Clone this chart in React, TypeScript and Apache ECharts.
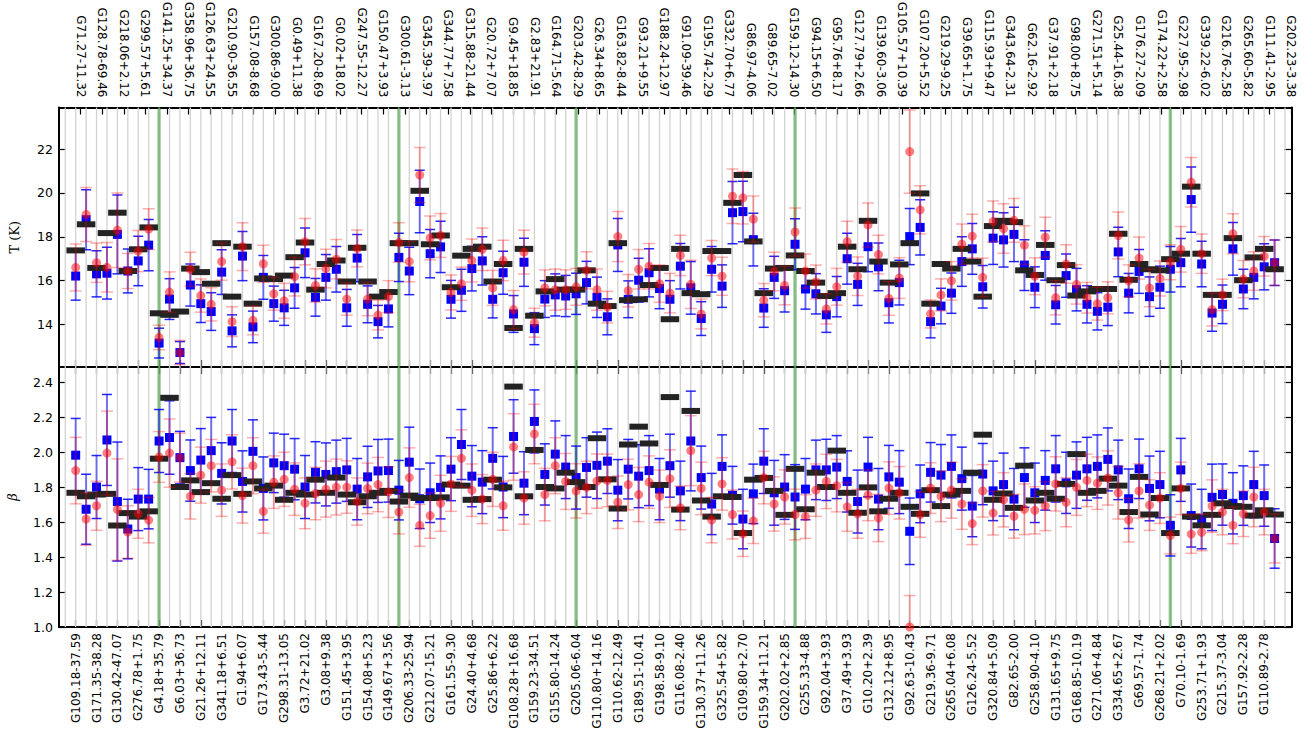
import React, { useEffect, useRef } from "react";
import * as echarts from "echarts";

const topNames = ["G71.27-11.32","G128.78-69.46","G218.06+2.12","G299.57+5.61","G141.25+34.37","G358.96+36.75","G126.63+24.55","G210.90-36.55","G157.08-8.68","G300.86-9.00","G0.49+11.38","G167.20-8.69","G0.02+18.02","G247.55-12.27","G150.47+3.93","G300.61-3.13","G345.39-3.97","G344.77+7.58","G315.88-21.44","G20.72+7.07","G9.45+18.85","G2.83+21.91","G164.71-5.64","G203.42-8.29","G26.34+8.65","G163.82-8.44","G93.21+9.55","G188.24-12.97","G91.09-39.46","G195.74-2.29","G332.70+6.77","G86.97-4.06","G89.65-7.02","G159.12-14.30","G94.15+6.50","G95.76+8.17","G127.79+2.66","G139.60-3.06","G105.57+10.39","G107.20+5.52","G219.29-9.25","G39.65+1.75","G115.93+9.47","G343.64-2.31","G62.16-2.92","G37.91+2.18","G98.00+8.75","G271.51+5.14","G25.44-16.38","G176.27-2.09","G174.22+2.58","G227.95-2.98","G339.22-6.02","G216.76-2.58","G265.60-5.82","G111.41-2.95","G202.23-3.38"];

const bottomNames = ["G109.18-37.59","G171.35-38.28","G130.42-47.07","G276.78+1.75","G4.18+35.79","G6.03+36.73","G21.26+12.11","G341.18+6.51","G1.94+6.07","G173.43-5.44","G298.31-13.05","G3.72+21.02","G3.08+9.38","G151.45+3.95","G154.08+5.23","G149.67+3.56","G206.33-25.94","G212.07-15.21","G161.55-9.30","G24.40+4.68","G25.86+6.22","G108.28+16.68","G159.23-34.51","G155.80-14.24","G205.06-6.04","G110.80+14.16","G110.62-12.49","G189.51-10.41","G198.58-9.10","G116.08-2.40","G130.37+11.26","G325.54+5.82","G109.80+2.70","G159.34+11.21","G202.02+2.85","G255.33-4.88","G92.04+3.93","G37.49+3.93","G10.20+2.39","G132.12+8.95","G92.63-10.43","G219.36-9.71","G265.04+6.08","G126.24-5.52","G320.84+5.09","G82.65-2.00","G258.90-4.10","G131.65+9.75","G168.85-10.19","G271.06+4.84","G334.65+2.67","G69.57-1.74","G268.21+2.02","G70.10-1.69","G253.71+1.93","G215.37-3.04","G157.92-2.28","G110.89-2.78"];

// Temperature panel
const tBlack = [17.38,18.57,16.58,18.17,19.10,16.44,17.43,18.43,14.51,14.44,14.59,16.55,16.39,15.86,17.71,15.27,17.55,14.95,16.10,16.07,16.23,17.07,17.74,15.59,16.76,16.92,15.96,17.50,15.96,15.27,15.48,17.71,17.71,20.10,17.66,18.06,15.70,17.14,17.45,17.55,15.96,16.76,13.84,17.45,14.40,15.51,16.07,15.59,15.59,16.47,14.95,14.84,17.71,15.11,15.15,15.80,16.58,14.24,17.45,15.43,15.38,17.35,17.35,19.55,20.82,17.79,15.43,16.55,16.58,17.15,16.44,15.91,15.30,15.43,17.55,16.52,18.73,16.87,15.91,16.74,17.71,19.98,14.95,16.76,16.55,17.45,16.87,15.27,18.49,18.73,18.67,16.47,16.26,17.63,16.02,16.71,15.32,15.51,15.62,15.62,18.14,16.04,16.76,16.52,16.47,16.98,17.23,20.29,17.23,15.35,15.35,17.94,16.02,17.06,17.45,16.52];
const tRed = [16.6,19.02,16.82,16.61,18.30,16.44,17.35,18.35,13.41,15.48,12.72,16.52,15.32,14.92,16.87,14.13,17.55,14.19,16.77,15.4,15.08,16.18,17.78,15.78,16.55,16.98,15.16,17.47,15.16,14.43,15.27,17.74,16.87,20.82,17.95,18.06,15.46,15.86,16.92,17.43,15.67,16.92,14.68,17.30,14.08,15.67,15.59,15.59,15.72,16.47,15.59,14.79,18.01,15.54,16.52,16.66,15.86,15.43,17.15,15.83,14.48,17.03,16.20,19.85,19.78,18.81,15.11,16.42,15.78,18.22,16.44,15.94,14.71,15.72,17.78,16.20,18.54,17.19,15.19,16.12,21.89,19.23,14.48,15.35,15.99,17.66,18.03,16.15,18.70,18.38,18.75,17.62,16.20,17.98,15.22,16.76,15.83,15.22,14.95,15.22,18.06,15.99,17.03,15.67,16.10,16.84,17.43,20.49,17.23,14.68,15.35,18.14,16.07,16.44,17.11,16.82];
const tRedErr = [1.07,1.23,0.9,1.13,1.7,0.8,0.94,0.93,0.56,0.92,0.55,0.78,0.76,0.76,0.85,0.68,1.09,0.66,0.85,0.75,0.8,0.88,1.06,0.76,0.88,0.9,0.74,0.84,0.76,0.68,0.73,0.9,0.92,1.26,1.0,1.0,0.8,0.76,0.98,0.97,0.8,0.92,0.87,1.0,0.66,0.82,0.94,0.9,0.84,0.85,0.94,0.72,1.14,0.74,0.9,1.04,0.85,0.9,0.92,1.1,0.68,0.8,0.87,1.24,1.2,1.05,0.76,0.88,0.88,1.1,0.78,0.77,0.69,0.84,0.93,0.88,1.0,0.88,0.77,0.93,1.9,1.1,0.64,0.73,0.88,0.92,1.0,0.88,0.93,1.13,1.0,0.88,0.84,0.91,0.78,0.88,0.9,0.7,0.75,0.73,1.07,0.73,0.96,0.86,0.8,0.8,1.04,1.13,0.9,0.75,0.72,0.91,0.85,0.88,0.9,1.04];
const tBlue = [16.21,18.78,16.31,16.34,18.11,16.44,16.9,17.62,13.15,15.16,12.72,15.8,14.95,14.59,16.39,13.71,17.12,13.89,16.15,14.95,14.76,15.67,17.27,15.24,16.15,16.52,14.76,17.03,14.92,14.13,14.71,17.06,16.44,19.61,17.23,17.54,15.15,15.56,16.55,16.9,15.15,16.36,14.48,16.84,13.81,15.16,15.35,15.3,15.4,15.91,15.24,14.35,17.63,15.15,16.02,16.36,15.64,15.15,16.66,15.67,14.27,16.52,15.75,19.1,19.15,17.87,14.75,16.15,15.54,17.66,15.62,15.4,14.44,15.27,17.0,15.83,17.55,16.63,14.99,15.91,18.01,18.43,14.13,14.84,15.43,16.87,17.45,15.72,17.94,17.86,18.11,16.71,15.7,17.15,14.9,16.23,15.59,14.92,14.6,14.79,17.31,15.43,16.42,15.27,15.7,16.52,16.82,19.7,16.76,14.52,14.92,17.45,15.62,16.15,16.63,16.82];
const tBlueErr = [1.1,1.37,1.05,1.18,1.8,1.0,1.13,1.17,0.68,0.93,0.5,0.96,0.86,0.86,1.02,0.73,1.12,0.72,1.0,0.8,0.8,0.93,1.13,0.86,1.04,1.04,0.84,1.08,0.84,0.74,0.82,1.1,1.08,1.43,1.1,1.17,0.86,0.96,1.02,1.1,0.85,0.98,0.84,1.1,0.73,0.84,0.96,0.94,0.94,0.97,0.92,0.82,1.21,0.84,1.0,1.1,0.92,0.85,1.04,1.2,0.77,1.04,0.97,1.42,1.38,1.2,0.88,0.96,0.97,1.16,0.92,0.92,0.8,0.92,1.16,0.96,1.14,1.09,0.92,1.02,1.28,1.26,0.74,0.81,0.92,1.13,1.16,0.97,1.2,1.24,1.24,1.16,0.93,1.13,0.88,0.99,0.97,0.85,0.85,0.84,1.13,0.9,1.0,0.9,0.96,1.04,1.1,1.49,1.04,0.83,0.88,1.2,0.9,0.98,1.05,1.04];

// Beta panel
const bBlack = [1.767,1.747,1.757,1.761,1.58,1.651,1.631,1.661,1.962,2.31,1.80,1.838,1.771,1.822,1.733,1.868,1.761,1.832,1.792,1.808,1.727,1.767,1.757,1.842,1.767,1.854,1.757,1.713,1.747,1.767,1.778,1.717,1.751,1.737,1.737,1.741,1.814,1.808,1.727,1.731,1.842,1.798,2.374,1.747,2.012,1.80,1.792,1.882,1.828,1.80,2.079,1.844,1.677,2.043,2.145,2.049,1.812,2.314,1.671,2.235,1.723,1.631,1.747,1.743,1.537,1.842,1.852,1.778,1.641,1.904,1.673,1.882,1.80,2.008,1.767,1.653,1.798,1.661,1.733,1.767,1.687,1.647,1.782,1.691,1.757,1.778,1.882,2.099,1.727,1.763,1.681,1.922,1.723,1.767,1.733,1.818,1.988,1.767,1.778,1.848,1.808,1.657,1.858,1.643,1.737,1.537,1.792,1.631,1.581,1.641,1.707,1.691,1.687,1.637,1.667,1.643];
const bRed = [1.894,1.617,1.693,1.994,1.671,1.543,1.647,1.611,1.972,1.994,1.968,1.747,1.868,1.922,1.782,1.944,1.751,1.922,1.661,1.828,1.844,1.788,1.707,1.763,1.788,1.80,1.80,1.717,1.792,1.814,1.771,1.657,1.854,1.581,1.637,1.707,1.818,1.964,1.782,1.731,1.844,1.693,2.029,1.737,2.103,1.757,1.922,1.832,1.778,1.798,1.834,1.838,1.713,1.814,1.757,1.828,1.747,1.848,1.681,2.008,1.792,1.611,1.818,1.643,1.533,1.607,1.854,1.703,1.743,1.643,1.631,1.782,1.832,1.808,1.687,1.647,1.753,1.623,1.794,1.767,1.0,1.643,1.794,1.747,1.782,1.703,1.591,1.778,1.651,1.727,1.633,1.673,1.667,1.691,1.818,1.713,1.798,1.838,1.822,1.852,1.767,1.611,1.778,1.697,1.737,1.523,1.792,1.531,1.541,1.691,1.657,1.581,1.647,1.743,1.657,1.506];
const bRedErr = [0.19,0.15,0.14,0.24,0.29,0.15,0.14,0.13,0.145,0.195,0.14,0.13,0.16,0.15,0.15,0.155,0.157,0.16,0.125,0.15,0.155,0.15,0.145,0.15,0.16,0.16,0.15,0.135,0.145,0.155,0.145,0.125,0.17,0.12,0.13,0.16,0.157,0.163,0.15,0.14,0.155,0.14,0.19,0.15,0.17,0.15,0.16,0.16,0.155,0.15,0.155,0.15,0.15,0.145,0.155,0.15,0.15,0.165,0.125,0.2,0.15,0.13,0.15,0.14,0.13,0.13,0.15,0.155,0.155,0.145,0.125,0.15,0.155,0.15,0.14,0.14,0.145,0.135,0.15,0.15,0.18,0.13,0.145,0.145,0.16,0.145,0.12,0.15,0.125,0.155,0.125,0.145,0.135,0.14,0.155,0.14,0.16,0.15,0.15,0.155,0.15,0.125,0.155,0.145,0.145,0.105,0.15,0.11,0.105,0.15,0.13,0.105,0.13,0.17,0.13,0.14];
const bBlue = [1.982,1.673,1.80,2.069,1.717,1.56,1.731,1.731,2.063,2.083,1.968,1.894,1.954,2.008,1.878,2.063,1.832,2.004,1.792,1.938,1.922,1.902,1.80,1.884,1.872,1.888,1.898,1.788,1.858,1.892,1.894,1.782,1.942,1.733,1.767,1.798,1.902,2.043,1.862,1.828,1.964,1.80,2.089,1.822,2.175,1.872,1.988,1.914,1.854,1.912,1.924,1.948,1.782,1.902,1.862,1.894,1.788,1.922,1.778,2.063,1.854,1.703,1.918,1.753,1.617,1.761,1.948,1.767,1.80,1.743,1.788,1.898,1.898,1.914,1.832,1.717,1.914,1.731,1.858,1.828,1.547,1.761,1.884,1.868,1.918,1.848,1.691,1.874,1.778,1.814,1.731,1.854,1.767,1.838,1.904,1.824,1.868,1.904,1.918,1.958,1.898,1.733,1.904,1.792,1.814,1.581,1.898,1.637,1.617,1.741,1.757,1.707,1.751,1.814,1.751,1.506];
const bBlueErr = [0.21,0.2,0.18,0.26,0.34,0.17,0.18,0.17,0.18,0.21,0.15,0.175,0.18,0.19,0.175,0.18,0.175,0.18,0.18,0.17,0.18,0.175,0.18,0.175,0.18,0.18,0.18,0.175,0.175,0.18,0.18,0.17,0.2,0.17,0.17,0.18,0.18,0.2,0.175,0.18,0.175,0.175,0.21,0.18,0.18,0.175,0.19,0.18,0.18,0.17,0.19,0.185,0.175,0.17,0.18,0.2,0.175,0.18,0.17,0.285,0.18,0.175,0.18,0.165,0.17,0.17,0.185,0.185,0.185,0.185,0.175,0.17,0.175,0.18,0.175,0.18,0.17,0.175,0.18,0.18,0.19,0.165,0.17,0.175,0.18,0.18,0.175,0.175,0.17,0.18,0.175,0.17,0.17,0.17,0.19,0.175,0.19,0.18,0.18,0.18,0.17,0.17,0.17,0.185,0.19,0.175,0.18,0.18,0.17,0.19,0.175,0.175,0.17,0.19,0.175,0.17];

// highlighted sources (vertical green lines)
const greenCats = [8, 31, 48, 69, 105];

const tTicks = [14, 16, 18, 20, 22];
const bTicks = [1.0, 1.2, 1.4, 1.6, 1.8, 2.0, 2.2, 2.4];

const X_MIN = -1.6;
const X_MAX = 116.6;
const T_MIN = 12.06;
const T_MAX = 23.9;
const B_MIN = 1.0;
const B_MAX = 2.486;

const FONT = "DejaVu Sans";

export default function App() {
  const ref = useRef<HTMLDivElement>(null);

  useEffect(() => {
    if (!ref.current) return;
    const chart = echarts.init(ref.current, undefined, { renderer: "svg" });

    const nCat = tBlack.length;
    const evenCats: number[] = [];
    for (let i = 0; i < bottomNames.length; i++) evenCats.push(i * 2);
    const topVals: number[] = [];
    for (let i = 0; i < topNames.length; i++) topVals.push(i * 2 + 2);
    const gridLineCats: number[] = [];
    for (let i = -1; i <= nCat; i++) gridLineCats.push(i);

    const pts = (vals: number[]) => vals.map((v, i) => [i, v]);
    const errPts = (vals: number[], errs: number[]) => vals.map((v, i) => [i, v, errs[i]]);

    const vLineSeries = (grid: number, cats: number[], color: string, width: number, z: number) => ({
      type: "custom",
      xAxisIndex: grid === 0 ? 0 : 2,
      yAxisIndex: grid === 0 ? 0 : 2,
      z,
      silent: true,
      data: cats.map((c) => [c, grid === 0 ? T_MIN : B_MIN]),
      renderItem: (params: any, api: any) => {
        const cs = params.coordSys;
        const p = api.coord([api.value(0), api.value(1)]);
        return {
          type: "line",
          shape: { x1: p[0], y1: cs.y, x2: p[0], y2: cs.y + cs.height },
          style: { stroke: color, lineWidth: width },
        };
      },
    });

    const errSeries = (
      grid: number,
      vals: number[],
      errs: number[],
      lineColor: string,
      capColor: string,
      half: number,
      z: number
    ) => ({
      type: "custom",
      xAxisIndex: grid === 0 ? 0 : 2,
      yAxisIndex: grid === 0 ? 0 : 2,
      z,
      clip: true,
      silent: true,
      data: errPts(vals, errs),
      renderItem: (params: any, api: any) => {
        const x = api.value(0);
        const v = api.value(1);
        const e = api.value(2);
        const p1 = api.coord([x, v + e]);
        const p2 = api.coord([x, v - e]);
        return {
          type: "group",
          children: [
            { type: "line", shape: { x1: p1[0], y1: p1[1], x2: p2[0], y2: p2[1] }, style: { stroke: lineColor, lineWidth: 2 } },
            { type: "line", shape: { x1: p1[0] - half, y1: p1[1], x2: p1[0] + half, y2: p1[1] }, style: { stroke: capColor, lineWidth: 1.5 } },
            { type: "line", shape: { x1: p2[0] - half, y1: p2[1], x2: p2[0] + half, y2: p2[1] }, style: { stroke: capColor, lineWidth: 1.5 } },
          ],
        };
      },
    });

    const scatter = (grid: number, vals: number[], symbol: string, size: any, color: string, z: number) => ({
      type: "scatter",
      xAxisIndex: grid === 0 ? 0 : 2,
      yAxisIndex: grid === 0 ? 0 : 2,
      z,
      clip: true,
      silent: true,
      symbol,
      symbolSize: size,
      itemStyle: { color, opacity: 1 },
      data: pts(vals),
    });

    const blueLine = "rgba(0,0,255,0.5)";
    const blueCap = "rgba(0,0,255,0.85)";
    const redLine = "rgba(255,0,0,0.3)";
    const redCap = "rgba(255,0,0,0.32)";
    const redFill = "rgba(255,0,0,0.5)";
    const black = "#232323";

    const series: any[] = [];
    for (const g of [0, 1]) {
      const [vb, vr, er, vbl, ebl] =
        g === 0 ? [tBlack, tRed, tRedErr, tBlue, tBlueErr] : [bBlack, bRed, bRedErr, bBlue, bBlueErr];
      series.push(vLineSeries(g, gridLineCats, "#d2d2d2", 1.3, 1));
      series.push(vLineSeries(g, greenCats, "rgba(0,128,0,0.4)", 3.5, 2));
      series.push(errSeries(g, vbl, ebl, blueLine, blueCap, 5, 3));
      series.push(scatter(g, vbl, "rect", 9, "#0000ff", 4));
      series.push(scatter(g, vb, "rect", [18.5, 6], black, 5));
      series.push(errSeries(g, vr, er, redLine, redCap, 6, 6));
      series.push(scatter(g, vr, "circle", 9, redFill, 7));
    }

    const axisLine = { show: true, onZero: false, lineStyle: { color: "#000", width: 2 } };
    const tick = (vals: number[]) => ({
      show: true,
      inside: true,
      length: 7,
      customValues: vals,
      lineStyle: { color: "#000", width: 1.2 },
    });
    const xLabelStyle = { fontFamily: FONT, fontSize: 12, color: "#000" };
    const yLabelStyle = { fontFamily: FONT, fontSize: 12.5, color: "#000" };

    const option: any = {
      animation: false,
      backgroundColor: "#ffffff",
      grid: [
        { left: 59, right: 22.7, top: 107.5, height: 259.5, outerBoundsMode: "none" },
        { left: 59, right: 22.7, top: 367, height: 260, outerBoundsMode: "none" },
      ],
      xAxis: [
        {
          gridIndex: 0, type: "value", position: "bottom", min: X_MIN, max: X_MAX,
          axisLine, axisTick: tick(evenCats), axisLabel: { show: false }, splitLine: { show: false },
        },
        {
          gridIndex: 0, type: "value", position: "top", min: 0, max: 114,
          axisLine, axisTick: tick(topVals),
          axisLabel: {
            show: true, customValues: topVals, rotate: 90, margin: 10, ...xLabelStyle,
            formatter: (v: number) => topNames[Math.round(v / 2) - 1] ?? "",
          },
          splitLine: { show: false },
        },
        {
          gridIndex: 1, type: "value", position: "top", min: X_MIN, max: X_MAX,
          axisLine, axisTick: tick(evenCats), axisLabel: { show: false }, splitLine: { show: false },
        },
        {
          gridIndex: 1, type: "value", position: "bottom", min: X_MIN, max: X_MAX,
          axisLine, axisTick: tick(evenCats),
          axisLabel: {
            show: true, customValues: evenCats, rotate: 90, margin: 6, ...xLabelStyle,
            formatter: (v: number) => bottomNames[Math.round(v / 2)] ?? "",
          },
          splitLine: { show: false },
        },
      ],
      yAxis: [
        {
          gridIndex: 0, type: "value", position: "left", min: T_MIN, max: T_MAX,
          axisLine, axisTick: tick(tTicks),
          axisLabel: { show: true, customValues: tTicks, margin: 6, ...yLabelStyle, formatter: (v: number) => String(Math.round(v)) },
          splitLine: { show: false },
          name: "T (K)", nameLocation: "middle", nameGap: 38, nameRotate: 90,
          nameTextStyle: { fontFamily: "DejaVu Serif", fontSize: 13, color: "#000" },
        },
        {
          gridIndex: 0, type: "value", position: "right", min: T_MIN, max: T_MAX,
          axisLine, axisTick: tick(tTicks), axisLabel: { show: false }, splitLine: { show: false },
        },
        {
          gridIndex: 1, type: "value", position: "left", min: B_MIN, max: B_MAX,
          axisLine, axisTick: tick(bTicks),
          axisLabel: { show: true, customValues: bTicks, margin: 6, ...yLabelStyle, formatter: (v: number) => v.toFixed(1) },
          splitLine: { show: false },
          name: "β", nameLocation: "middle", nameGap: 40, nameRotate: 90,
          nameTextStyle: { fontFamily: "DejaVu Serif", fontStyle: "italic", fontSize: 13, color: "#000" },
        },
        {
          gridIndex: 1, type: "value", position: "right", min: B_MIN, max: B_MAX,
          axisLine, axisTick: tick(bTicks), axisLabel: { show: false }, splitLine: { show: false },
        },
      ],
      series,
    };

    chart.setOption(option);
    return () => chart.dispose();
  }, []);

  return (
    <div
      ref={ref}
      style={{ position: "absolute", left: 0, top: 0, width: 1314, height: 733, background: "#fff" }}
    />
  );
}
